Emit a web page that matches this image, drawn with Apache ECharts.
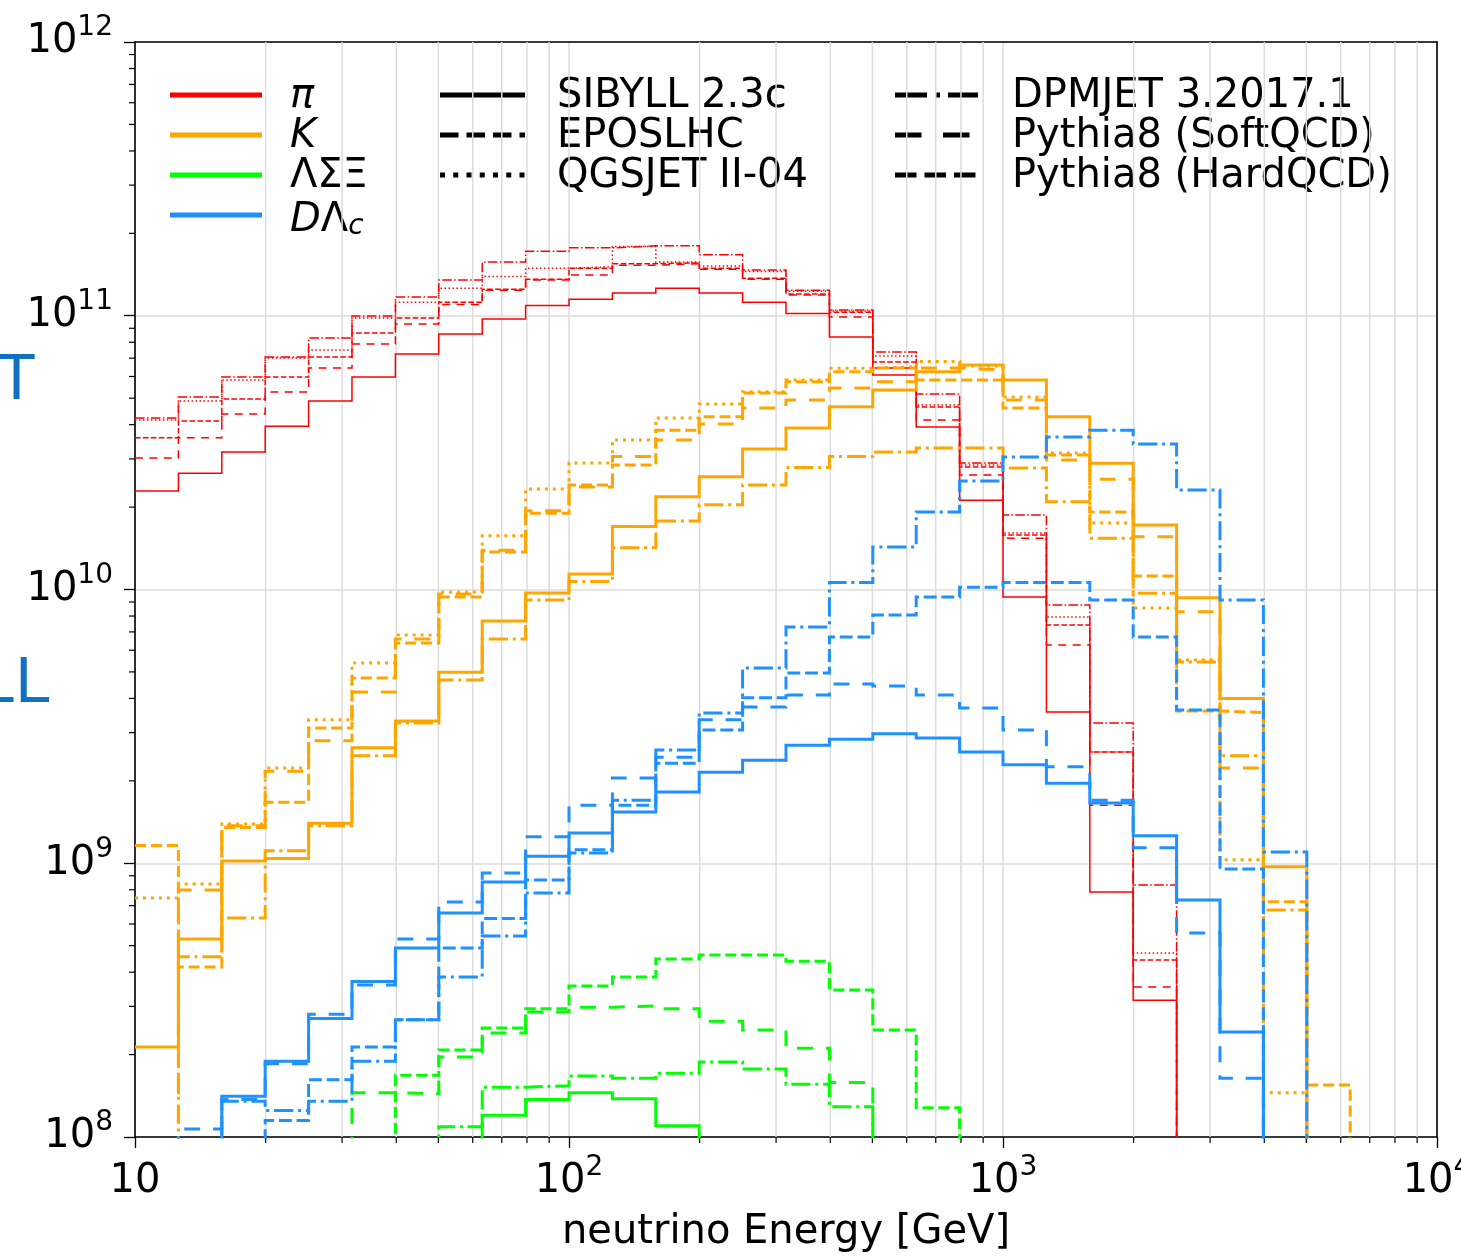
<!DOCTYPE html>
<html>
<head>
<meta charset="utf-8">
<script src="https://cdn.jsdelivr.net/npm/echarts@6/dist/echarts.min.js"></script>
<style>
html, body { margin: 0; padding: 0; background: #ffffff; overflow: hidden; }
#chart { width: 1461px; height: 1256px; }
</style>
</head>
<body>
<div id="chart"></div>
<script>
// Neutrino energy spectra by parent hadron and event generator.
// Histogram bin edges in GeV (10 log-spaced bins per decade).
const binEdges = [10, 12.59, 15.85, 19.95, 25.12, 31.62, 39.81, 50.12, 63.10, 79.43,
  100, 125.9, 158.5, 199.5, 251.2, 316.2, 398.1, 501.2, 631.0, 794.3,
  1000, 1259, 1585, 1995, 2512, 3162, 3981, 5012, 6310, 7943, 10000];

// pi
const piDPMJET  = [4.23e10, 5.05e10, 5.97e10, 7.07e10, 8.29e10, 9.98e10, 1.17e11, 1.35e11, 1.57e11, 1.72e11, 1.77e11, 1.80e11, 1.80e11, 1.67e11, 1.47e11, 1.24e11, 1.05e11, 7.37e10, 5.18e10, 2.90e10, 1.87e10, 8.78e9, 3.25e9, 8.33e8, 0, 0, 0, 0, 0, 0];
const piQGSJET  = [4.16e10, 4.88e10, 5.82e10, 7.01e10, 7.50e10, 9.81e10, 1.12e11, 1.26e11, 1.39e11, 1.49e11, 1.51e11, 1.79e11, 1.57e11, 1.52e11, 1.45e11, 1.23e11, 1.04e11, 7.13e10, 4.72e10, 2.85e10, 1.61e10, 7.93e9, 2.55e9, 4.70e8, 0, 0, 0, 0, 0, 0];
const piEPOS    = [3.58e10, 4.13e10, 4.96e10, 5.97e10, 7.07e10, 8.65e10, 9.81e10, 1.12e11, 1.25e11, 1.36e11, 1.49e11, 1.55e11, 1.56e11, 1.49e11, 1.37e11, 1.20e11, 1.03e11, 6.78e10, 4.64e10, 2.80e10, 1.58e10, 7.42e9, 2.55e9, 4.43e8, 0, 0, 0, 0, 0, 0];
const piSoftQCD = [3.02e10, 3.58e10, 4.38e10, 5.27e10, 6.44e10, 7.88e10, 9.33e10, 1.10e11, 1.24e11, 1.35e11, 1.41e11, 1.53e11, 1.55e11, 1.48e11, 1.36e11, 1.19e11, 9.90e10, 6.44e10, 4.16e10, 2.62e10, 1.54e10, 6.27e9, 1.63e9, 3.53e8, 0, 0, 0, 0, 0, 0];
const piSIBYLL  = [2.29e10, 2.66e10, 3.18e10, 3.95e10, 4.88e10, 5.97e10, 7.25e10, 8.58e10, 9.73e10, 1.09e11, 1.15e11, 1.21e11, 1.26e11, 1.21e11, 1.12e11, 1.02e11, 8.36e10, 6.08e10, 3.92e10, 2.12e10, 9.39e9, 3.57e9, 7.85e8, 3.16e8, 0, 0, 0, 0, 0, 0];

// K
const kQGSJET  = [7.47e8, 8.40e8, 1.39e9, 2.23e9, 3.34e9, 5.39e9, 6.82e9, 9.79e9, 1.57e10, 2.33e10, 2.90e10, 3.52e10, 4.23e10, 4.76e10, 5.28e10, 5.83e10, 6.43e10, 6.51e10, 6.80e10, 6.55e10, 5.05e10, 3.15e10, 1.75e10, 8.56e9, 5.53e9, 1.03e9, 1.45e8, 0, 0, 0];
const kEPOS    = [1.16e9, 4.18e8, 1.35e9, 1.67e9, 3.12e9, 4.75e9, 6.38e9, 9.39e9, 1.37e10, 1.90e10, 2.41e10, 2.85e10, 3.82e10, 4.28e10, 5.22e10, 5.74e10, 6.25e10, 6.44e10, 5.83e10, 5.83e10, 4.60e10, 3.10e10, 1.92e10, 1.12e10, 3.60e9, 3.55e9, 7.24e8, 1.55e8, 0, 0];
const kSoftQCD = [0, 7.98e8, 1.37e9, 2.17e9, 2.80e9, 4.22e9, 6.59e9, 9.63e9, 1.39e10, 1.94e10, 2.37e10, 3.06e10, 3.52e10, 4.02e10, 4.60e10, 4.92e10, 5.45e10, 5.74e10, 6.44e10, 6.34e10, 4.92e10, 2.97e10, 2.53e10, 1.56e10, 8.30e9, 2.23e9, 0, 0, 0, 0];
const kSIBYLL  = [2.13e8, 5.29e8, 1.02e9, 1.04e9, 1.40e9, 2.64e9, 3.31e9, 4.99e9, 7.67e9, 9.71e9, 1.14e10, 1.70e10, 2.18e10, 2.58e10, 3.26e10, 3.89e10, 4.65e10, 5.36e10, 6.25e10, 6.61e10, 5.83e10, 4.28e10, 2.89e10, 1.72e10, 9.33e9, 4.00e9, 9.71e8, 0, 0, 0];
const kDPMJET  = [0, 4.55e8, 6.31e8, 1.11e9, 1.37e9, 2.47e9, 3.25e9, 4.67e9, 6.59e9, 9.15e9, 1.07e10, 1.42e10, 1.78e10, 2.04e10, 2.41e10, 2.79e10, 3.06e10, 3.18e10, 3.29e10, 3.29e10, 2.78e10, 2.09e10, 1.54e10, 9.69e9, 5.44e9, 2.47e9, 6.75e8, 0, 0, 0];

// Lambda, Sigma, Xi
const hypEPOS    = [0, 0, 0, 0, 0, 0, 1.68e8, 2.08e8, 2.50e8, 2.94e8, 3.56e8, 3.84e8, 4.47e8, 4.62e8, 4.62e8, 4.39e8, 3.44e8, 2.46e8, 1.28e8, 0, 0, 0, 0, 0, 0, 0, 0, 0, 0, 0];
const hypSoftQCD = [0, 0, 0, 0, 0, 1.45e8, 1.44e8, 1.96e8, 2.40e8, 2.86e8, 2.98e8, 3.01e8, 2.94e8, 2.65e8, 2.46e8, 2.11e8, 1.58e8, 0, 0, 0, 0, 0, 0, 0, 0, 0, 0, 0, 0, 0];
const hypDPMJET  = [0, 0, 0, 0, 0, 0, 0, 1.09e8, 1.52e8, 1.54e8, 1.67e8, 1.64e8, 1.71e8, 1.88e8, 1.77e8, 1.56e8, 1.29e8, 0, 0, 0, 0, 0, 0, 0, 0, 0, 0, 0, 0, 0];
const hypSIBYLL  = [0, 0, 0, 0, 0, 0, 0, 0, 1.20e8, 1.37e8, 1.45e8, 1.38e8, 1.10e8, 0, 0, 0, 0, 0, 0, 0, 0, 0, 0, 0, 0, 0, 0, 0, 0, 0];

// D, Lambda_c
const charmDPMJET  = [0, 0, 1.35e8, 1.25e8, 1.35e8, 1.89e8, 2.68e8, 3.84e8, 5.42e8, 7.79e8, 1.09e9, 1.70e9, 2.59e9, 3.54e9, 5.17e9, 7.30e9, 1.06e10, 1.43e10, 1.92e10, 2.49e10, 3.05e10, 3.61e10, 3.82e10, 3.40e10, 2.31e10, 9.15e9, 1.10e9, 0, 0, 0];
const charmHardQCD = [0, 0, 0, 1.15e8, 1.62e8, 2.13e8, 2.68e8, 4.90e8, 6.28e8, 8.69e8, 1.12e9, 1.63e9, 2.32e9, 3.07e9, 4.02e9, 4.95e9, 6.71e9, 8.07e9, 9.39e9, 1.02e10, 1.06e10, 1.06e10, 9.15e9, 6.71e9, 3.63e9, 9.53e8, 0, 0, 0, 0];
const charmSoftQCD = [0, 1.07e8, 1.37e8, 1.85e8, 2.81e8, 3.59e8, 5.29e8, 7.22e8, 9.21e8, 1.25e9, 1.63e9, 2.05e9, 2.44e9, 3.34e9, 3.72e9, 4.12e9, 4.52e9, 4.44e9, 4.12e9, 3.69e9, 3.07e9, 2.25e9, 1.70e9, 1.14e9, 5.56e8, 1.64e8, 0, 0, 0, 0];
const charmSIBYLL  = [0, 0, 1.41e8, 1.89e8, 2.71e8, 3.70e8, 4.90e8, 6.58e8, 8.54e8, 1.06e9, 1.29e9, 1.54e9, 1.82e9, 2.15e9, 2.38e9, 2.70e9, 2.84e9, 2.97e9, 2.87e9, 2.55e9, 2.29e9, 1.96e9, 1.66e9, 1.26e9, 7.34e8, 2.42e8, 0, 0, 0, 0];

// Axis ticks and labels
const xTickText = [['10', ''], ['10', '2'], ['10', '3'], ['10', '4']];
const yTickText = [['10', '8'], ['10', '9'], ['10', '10'], ['10', '11'], ['10', '12']];
const xMinorTicks = [20, 30, 40, 50, 60, 70, 80, 90, 200, 300, 400, 500, 600, 700, 800, 900,
  2000, 3000, 4000, 5000, 6000, 7000, 8000, 9000];
const yMinorTicks = [2e8, 3e8, 4e8, 5e8, 6e8, 7e8, 8e8, 9e8, 2e9, 3e9, 4e9, 5e9, 6e9, 7e9, 8e9, 9e9,
  2e10, 3e10, 4e10, 5e10, 6e10, 7e10, 8e10, 9e10, 2e11, 3e11, 4e11, 5e11, 6e11, 7e11, 8e11, 9e11];

const X_MIN = 10, X_MAX = 1e4, Y_MIN = 1e8, Y_MAX = 1e12;
// Empty bins sit below the axis floor (a log axis cannot show zero).
const EMPTY = 1e6;

const FONT = '"DejaVu Sans", "Liberation Sans", sans-serif';
const GRID_COLOR = '#dcdcdc';

// Dash patterns in units of line width (matplotlib style).
const dashPatterns = {
  SIBYLL: null,
  EPOS: [3.7, 1.6],
  QGSJET: [1, 1.65],
  DPMJET: [6.4, 1.6, 1, 1.6],
  SoftQCD: [5.3, 4.3],
  HardQCD: [4.3, 1.6]
};

const generatorLegend = [
  { key: 'SIBYLL', text: 'SIBYLL 2.3c' },
  { key: 'EPOS', text: 'EPOSLHC' },
  { key: 'QGSJET', text: 'QGSJET II-04' },
  { key: 'DPMJET', text: 'DPMJET 3.2017.1' },
  { key: 'SoftQCD', text: 'Pythia8 (SoftQCD)' },
  { key: 'HardQCD', text: 'Pythia8 (HardQCD)' }
];

const speciesList = [
  { color: '#ff0000', width: 1.5, label: '{i|π}',
    curves: [['DPMJET', piDPMJET], ['QGSJET', piQGSJET], ['EPOS', piEPOS], ['SoftQCD', piSoftQCD], ['SIBYLL', piSIBYLL]] },
  { color: '#ffa500', width: 3, label: '{i|K}',
    curves: [['QGSJET', kQGSJET], ['EPOS', kEPOS], ['SoftQCD', kSoftQCD], ['SIBYLL', kSIBYLL], ['DPMJET', kDPMJET]] },
  { color: '#00ff00', width: 3, label: '{u|ΛΣΞ}',
    curves: [['EPOS', hypEPOS], ['SoftQCD', hypSoftQCD], ['DPMJET', hypDPMJET], ['SIBYLL', hypSIBYLL]] },
  { color: '#1e90ff', width: 3, label: '{i|D}{u|Λ}{sub|c}',
    curves: [['DPMJET', charmDPMJET], ['HardQCD', charmHardQCD], ['SoftQCD', charmSoftQCD], ['SIBYLL', charmSIBYLL]] }
];

function dashFor(key, lw) {
  const p = dashPatterns[key];
  return p ? p.map(d => d * lw) : 'solid';
}

function stepData(values) {
  const pts = values.map((v, i) => [binEdges[i], v > 0 ? v : EMPTY]);
  const last = values[values.length - 1];
  pts.push([binEdges[values.length], last > 0 ? last : EMPTY]);
  return pts;
}

const series = [];

// Minor vertical grid lines and minor ticks on the energy axis
series.push({
  type: 'custom', silent: true, z: 1, animation: false,
  data: xMinorTicks.map(v => [v, Y_MIN]),
  renderItem: (params, api) => {
    const b = api.coord([api.value(0), Y_MIN]);
    const t = api.coord([api.value(0), Y_MAX]);
    return { type: 'group', children: [
      { type: 'line', shape: { x1: b[0], y1: t[1], x2: b[0], y2: b[1] }, style: { stroke: GRID_COLOR, lineWidth: 1.5 } },
      { type: 'line', shape: { x1: b[0], y1: b[1], x2: b[0], y2: b[1] + 6 }, style: { stroke: '#000', lineWidth: 1.2 } }
    ] };
  }
});
// Minor ticks on the flux axis
series.push({
  type: 'custom', silent: true, z: 1, animation: false,
  data: yMinorTicks.map(v => [X_MIN, v]),
  renderItem: (params, api) => {
    const p = api.coord([X_MIN, api.value(1)]);
    return { type: 'line', shape: { x1: p[0] - 6, y1: p[1], x2: p[0], y2: p[1] }, style: { stroke: '#000', lineWidth: 1.2 } };
  }
});

speciesList.forEach(sp => {
  sp.curves.forEach(([key, values]) => {
    series.push({
      type: 'line', step: 'end', data: stepData(values),
      showSymbol: false, symbol: 'none', silent: true, clip: true, z: 3,
      animation: false,
      lineStyle: { color: sp.color, width: sp.width, type: dashFor(key, sp.width), cap: 'butt', join: 'miter' }
    });
  });
});

// Legend drawn as graphic elements
const graphics = [];
const labelRich = {
  i: { fontFamily: FONT, fontStyle: 'italic', fontSize: 40, lineHeight: 40, verticalAlign: 'top', color: '#000' },
  u: { fontFamily: FONT, fontSize: 40, lineHeight: 40, verticalAlign: 'top', color: '#000' },
  sub: { fontFamily: FONT, fontStyle: 'italic', fontSize: 28, lineHeight: 28, padding: [22, 0, 0, 0], verticalAlign: 'bottom', color: '#000' }
};
speciesList.forEach((sp, i) => {
  const y = 95 + 40 * i;
  graphics.push({ type: 'line', silent: true, shape: { x1: 170, y1: y, x2: 262, y2: y }, style: { stroke: sp.color, lineWidth: 5 } });
  graphics.push({ type: 'text', silent: true, x: 290, y: i === 3 ? y + 6 : y + 2,
    style: { text: sp.label, rich: labelRich, verticalAlign: 'middle', align: 'left' } });
});
generatorLegend.forEach((g, i) => {
  const col = Math.floor(i / 3), row = i % 3;
  const x0 = col === 0 ? 440 : 895, x1 = col === 0 ? 525 : 978, tx = col === 0 ? 557 : 1012;
  const y = 95 + 40 * row;
  const dash = dashFor(g.key, 5);
  graphics.push({ type: 'line', silent: true, shape: { x1: x0, y1: y, x2: x1, y2: y },
    style: { stroke: '#000', lineWidth: 5, lineDash: dash === 'solid' ? null : dash } });
  graphics.push({ type: 'text', silent: true, x: tx, y: y + 2,
    style: { text: g.text, font: '40px ' + FONT, fill: '#000', verticalAlign: 'middle', align: 'left' } });
});
// Neighbouring slide text clipped at the left edge
graphics.push({ type: 'text', silent: true, x: -3, y: 381,
  style: { text: 'T', font: '64px "Liberation Sans", sans-serif', fill: '#1170c0', verticalAlign: 'middle' } });
graphics.push({ type: 'text', silent: true, x: -20, y: 684,
  style: { text: 'LL', font: '64px "Liberation Sans", sans-serif', fill: '#1170c0', verticalAlign: 'middle' } });

const tickRich = {
  b: { fontFamily: FONT, fontSize: 40, lineHeight: 56, color: '#000' },
  s: { fontFamily: FONT, fontSize: 28, lineHeight: 28, verticalAlign: 'top', color: '#000' }
};
function tickLabel(table, offset) {
  return value => {
    const e = Math.round(Math.log10(value)) - offset;
    const t = table[e];
    if (!t) return '';
    return t[1] ? `{b|${t[0]}}{s|${t[1]}}` : `{b|${t[0]}}`;
  };
}

const chart = echarts.init(document.getElementById('chart'), null, { renderer: 'canvas', width: 1461, height: 1256 });
chart.setOption({
  animation: false,
  backgroundColor: '#ffffff',
  grid: { left: 135, right: 24, top: 42, bottom: 119, containLabel: false, outerBoundsMode: 'none' },
  xAxis: [{
    type: 'log', logBase: 10, min: X_MIN, max: X_MAX, position: 'bottom',
    axisLine: { show: true, lineStyle: { color: '#000', width: 1.6 } },
    axisTick: { show: true, inside: false, length: 11, lineStyle: { color: '#000', width: 1.3 } },
    axisLabel: { margin: 17, formatter: tickLabel(xTickText, 1), rich: tickRich },
    splitLine: { show: true, lineStyle: { color: GRID_COLOR, width: 1.5 } },
    name: 'neutrino Energy [GeV]', nameLocation: 'middle', nameGap: 76,
    nameTextStyle: { fontFamily: FONT, fontSize: 40, color: '#000' }
  }, {
    type: 'log', logBase: 10, min: X_MIN, max: X_MAX, position: 'top',
    axisLine: { show: true, lineStyle: { color: '#000', width: 1.6 } },
    axisTick: { show: false }, axisLabel: { show: false }, splitLine: { show: false }
  }],
  yAxis: [{
    type: 'log', logBase: 10, min: Y_MIN, max: Y_MAX, position: 'left',
    axisLine: { show: true, lineStyle: { color: '#000', width: 1.6 } },
    axisTick: { show: true, inside: false, length: 11, lineStyle: { color: '#000', width: 1.3 } },
    axisLabel: { margin: 22, formatter: tickLabel(yTickText, 8), rich: tickRich },
    splitLine: { show: true, lineStyle: { color: GRID_COLOR, width: 1.5 } }
  }, {
    type: 'log', logBase: 10, min: Y_MIN, max: Y_MAX, position: 'right',
    axisLine: { show: true, lineStyle: { color: '#000', width: 1.6 } },
    axisTick: { show: false }, axisLabel: { show: false }, splitLine: { show: false }
  }],
  series: series,
  graphic: graphics
});
</script>
</body>
</html>
